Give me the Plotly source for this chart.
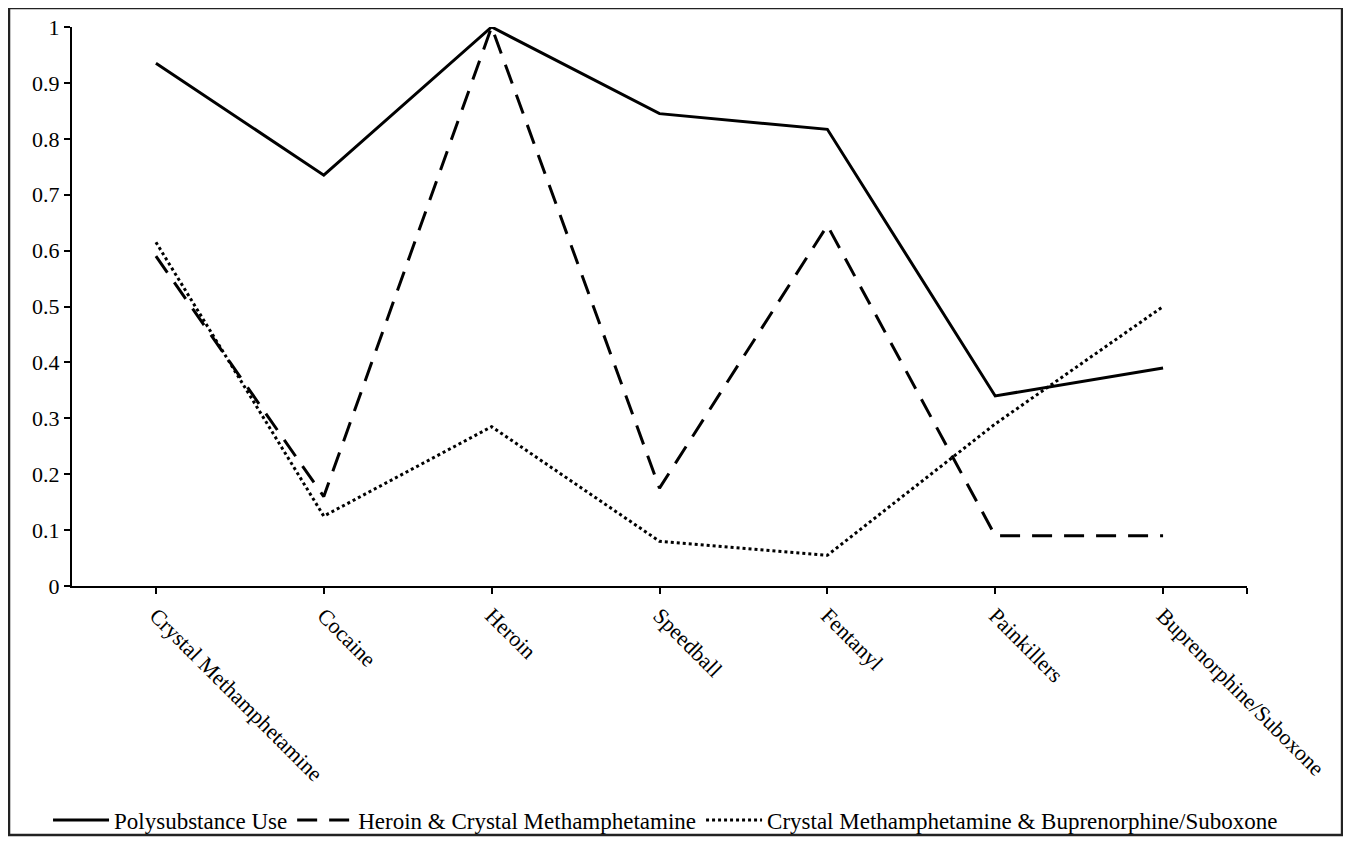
import plotly.graph_objects as go

categories = ["Crystal Methamphetamine", "Cocaine", "Heroin", "Speedball",
              "Fentanyl", "Painkillers", "Buprenorphine/Suboxone"]
polysubstance = [0.935, 0.735, 1.0, 0.845, 0.817, 0.34, 0.39]
heroin_cm = [0.59, 0.16, 1.0, 0.175, 0.645, 0.09, 0.09]
cm_bup = [0.615, 0.125, 0.285, 0.08, 0.055, 0.29, 0.50]
series_names = ["Polysubstance Use", "Heroin & Crystal Methamphetamine",
                "Crystal Methamphetamine & Buprenorphine/Suboxone"]
y_ticks = [0, 0.1, 0.2, 0.3, 0.4, 0.5, 0.6, 0.7, 0.8, 0.9, 1]
y_tick_labels = ["0", "0.1", "0.2", "0.3", "0.4", "0.5", "0.6", "0.7", "0.8", "0.9", "1"]

xpos = list(range(len(categories)))
FONT = "Liberation Serif, Times New Roman, serif"

fig = go.Figure()
dashes = ["solid", "20px,12px", "3px,3px"]
for name, vals, d in zip(series_names, [polysubstance, heroin_cm, cm_bup], dashes):
    fig.add_trace(go.Scatter(x=xpos, y=vals, mode="lines", name=name,
                             line=dict(color="black", width=3, dash=d)))

fig.update_layout(
    width=1335, height=834,
    margin=dict(l=64, r=96, t=19, b=256, autoexpand=False),
    paper_bgcolor="white", plot_bgcolor="white",
    font=dict(family=FONT, size=22, color="black"),
    showlegend=True,
    legend=dict(orientation="h", xref="paper", yref="paper",
                x=-0.0204, xanchor="left", y=-0.4186, yanchor="middle",
                font=dict(family=FONT, size=23, color="black"),
                itemwidth=56, tracegroupgap=0, bgcolor="rgba(0,0,0,0)"),
    xaxis=dict(range=[-0.5, 6.5], tickmode="array",
               tickvals=xpos + [6.5], ticktext=categories + [""],
               tickangle=45, showline=True, linecolor="black", linewidth=2,
               ticks="outside", ticklen=6, tickwidth=1.5, tickcolor="black",
               showgrid=False, zeroline=False, automargin=False,
               tickfont=dict(family=FONT, size=22, color="black")),
    yaxis=dict(range=[0, 1], tickmode="array", tickvals=y_ticks, ticktext=y_tick_labels,
               showline=True, linecolor="black", linewidth=2,
               ticks="outside", ticklen=6, tickwidth=1.5, tickcolor="black",
               showgrid=False, zeroline=False, automargin=False,
               tickfont=dict(family=FONT, size=22, color="black")),
    shapes=[dict(type="rect", xref="paper", yref="paper",
                 x0=-0.0536, x1=1.0809, y0=-0.4454, y1=1.034,
                 line=dict(color="#222", width=2.5), fillcolor="rgba(0,0,0,0)")],
)

fig.write_html("out.html")
